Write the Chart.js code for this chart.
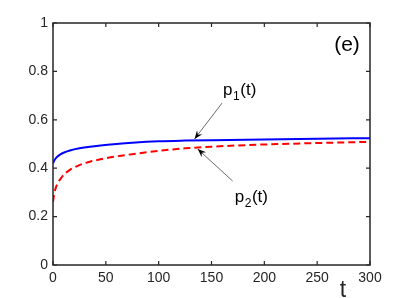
<!DOCTYPE html>
<html><head><meta charset="utf-8">
<script src="https://cdn.jsdelivr.net/npm/chart.js@4/dist/chart.umd.min.js"></script>
<style>html,body{margin:0;padding:0;background:#fff;}#wrap{width:409px;height:298px;position:relative;}</style>
</head><body><div id="wrap"><canvas id="c" width="409" height="298"></canvas></div>
<script>
const tValues = [0, 1, 2, 4, 7, 10, 16, 25, 35, 45, 60, 75, 100, 125, 150, 200, 250, 300];
const p1Values = [0.420, 0.430, 0.437, 0.447, 0.457, 0.464, 0.473, 0.482, 0.489, 0.494, 0.500, 0.505, 0.511, 0.514, 0.516, 0.519, 0.522, 0.524];
const p2Values = [0.260, 0.290, 0.310, 0.335, 0.355, 0.372, 0.393, 0.413, 0.427, 0.437, 0.449, 0.458, 0.472, 0.482, 0.489, 0.498, 0.504, 0.509];
const xTicks = [0, 50, 100, 150, 200, 250, 300];
const yTicks = [0, 0.2, 0.4, 0.6, 0.8, 1];
const yTickLabels = ['0', '0.2', '0.4', '0.6', '0.8', '1'];
const panelLabel = '(e)';
const xLabel = 't';

const toPts = (xs, ys) => xs.map((x, i) => ({x: x, y: ys[i]}));
const axisColor = '#262626';
const FONT = '"Liberation Sans", Arial, Helvetica, sans-serif';

const decor = {
  id: 'decor',
  afterDraw(chart) {
    const ctx = chart.ctx, a = chart.chartArea, xs = chart.scales.x, ys = chart.scales.y;
    ctx.save();
    ctx.strokeStyle = axisColor; ctx.lineWidth = 1.5;
    ctx.strokeRect(a.left, a.top, a.right - a.left, a.bottom - a.top);
    ctx.lineWidth = 1.2;
    ctx.beginPath();
    xTicks.forEach(v => { const px = xs.getPixelForValue(v);
      ctx.moveTo(px, a.bottom); ctx.lineTo(px, a.bottom - 4);
      ctx.moveTo(px, a.top); ctx.lineTo(px, a.top + 4); });
    yTicks.forEach(v => { const py = ys.getPixelForValue(v);
      ctx.moveTo(a.left, py); ctx.lineTo(a.left + 4, py);
      ctx.moveTo(a.right, py); ctx.lineTo(a.right - 4, py); });
    ctx.stroke();
    // panel label
    ctx.fillStyle = '#000';
    ctx.font = '21px ' + FONT; ctx.textAlign = 'center'; ctx.textBaseline = 'middle';
    ctx.fillText(panelLabel, a.right - 23, a.top + 22);
    // x label
    ctx.font = '23px ' + FONT; ctx.textBaseline = 'alphabetic'; ctx.fillStyle = axisColor;
    ctx.fillText(xLabel, 343, 297);
    // annotations
    const arrow = (x1, y1, x2, y2) => {
      const X1 = xs.getPixelForValue(x1), Y1 = ys.getPixelForValue(y1);
      const X2 = xs.getPixelForValue(x2), Y2 = ys.getPixelForValue(y2);
      ctx.strokeStyle = '#444'; ctx.lineWidth = 0.8;
      ctx.beginPath(); ctx.moveTo(X1, Y1); ctx.lineTo(X2, Y2); ctx.stroke();
      const ang = Math.atan2(Y2 - Y1, X2 - X1), L = 9, W = 0.38;
      ctx.fillStyle = '#000';
      ctx.beginPath(); ctx.moveTo(X2, Y2);
      ctx.lineTo(X2 - L * Math.cos(ang - W), Y2 - L * Math.sin(ang - W));
      ctx.lineTo(X2 - 0.6 * L * Math.cos(ang), Y2 - 0.6 * L * Math.sin(ang));
      ctx.lineTo(X2 - L * Math.cos(ang + W), Y2 - L * Math.sin(ang + W));
      ctx.closePath(); ctx.fill();
    };
    const label = (x, y, sub) => {
      let X = xs.getPixelForValue(x), Y = ys.getPixelForValue(y);
      ctx.fillStyle = '#000'; ctx.textAlign = 'left'; ctx.textBaseline = 'alphabetic';
      ctx.font = '17px ' + FONT; ctx.fillText('p', X, Y); X += ctx.measureText('p').width + 0.5;
      ctx.font = '12px ' + FONT; ctx.fillText(sub, X, Y + 5); X += ctx.measureText(sub).width + 0.5;
      ctx.font = '17px ' + FONT; ctx.fillText('(t)', X, Y);
    };
    arrow(160, 0.669, 134, 0.521);
    label(161, 0.702, '1');
    arrow(170, 0.347, 137, 0.479);
    label(172, 0.262, '2');
    ctx.restore();
  }
};

new Chart(document.getElementById('c'), {
  type: 'line',
  data: { datasets: [
    { data: toPts(tValues, p1Values), borderColor: '#0000ff', borderWidth: 2, pointRadius: 0, cubicInterpolationMode: 'monotone', fill: false },
    { data: toPts(tValues, p2Values), borderColor: '#ff0000', borderWidth: 2, borderDash: [7, 4], pointRadius: 0, cubicInterpolationMode: 'monotone', fill: false }
  ]},
  options: {
    responsive: false, animation: false, devicePixelRatio: 1,
    layout: { padding: { left: 0, top: 23, right: 39, bottom: 0 } },
    plugins: { legend: { display: false }, tooltip: { enabled: false } },
    scales: {
      x: { type: 'linear', min: 0, max: 300, border: { display: false },
        grid: { display: false, drawTicks: false },
        afterBuildTicks: s => { s.ticks = xTicks.map(v => ({value: v})); },
        afterFit: s => { s.height = 33; },
        ticks: { color: axisColor, font: { family: FONT, size: 14 }, padding: 5, maxRotation: 0, autoSkip: false } },
      y: { type: 'linear', min: 0, max: 1, border: { display: false },
        grid: { display: false, drawTicks: false },
        afterBuildTicks: s => { s.ticks = yTicks.map(v => ({value: v})); },
        afterFit: s => { s.width = 53; },
        ticks: { color: axisColor, font: { family: FONT, size: 14 }, padding: 5, autoSkip: false,
          callback: (v, i) => yTickLabels[i] } }
    }
  },
  plugins: [decor]
});
</script></body></html>
